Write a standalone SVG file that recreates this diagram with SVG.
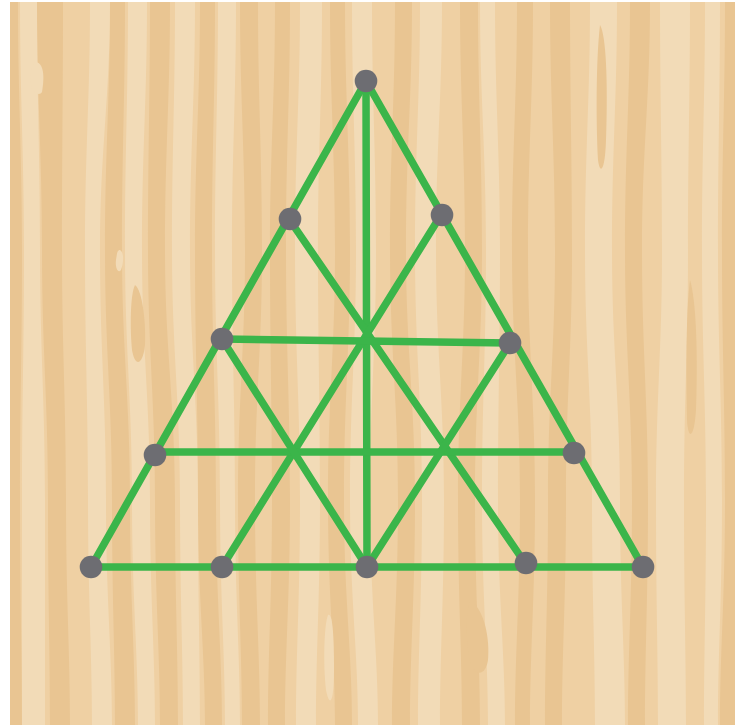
<svg xmlns="http://www.w3.org/2000/svg" width="744" height="725" viewBox="0 0 744 725">
<defs>
<style>
.d{fill:#E9C592}
.l{fill:#F2DBB7}
.edge{stroke:#3BB54A;stroke-width:7.5;stroke-linecap:round;fill:none}
.nail{fill:#6D6D72}
</style>
<clipPath id="board"><rect x="10" y="2" width="725" height="723"/></clipPath>
</defs>
<rect width="744" height="725" fill="#FFFFFF"/>
<g id="wood" clip-path="url(#board)">
<rect x="10" y="2" width="725" height="723" fill="#EFD0A3"/>
<path class="d" d="M10,2 C10,100 10,150 10,250 C10,350 10,400 10,500 C10,600 10,650 10,725 L22,725 C22,650 20,600 20,500 C20,400 22,350 22,250 C22,150 18,100 18,2 Z"/>
<path class="d" d="M37,2 C37,100 42,150 42,250 C42,350 48,400 48,500 C48,600 50,650 50,725 L70,725 C70,650 66,600 66,500 C66,400 62,350 62,250 C62,150 63,100 63,2 Z"/>
<path class="d" d="M110,2 C110,100 105,150 105,250 C105,350 112,400 112,500 C112,600 115,650 115,725 L135,725 C135,650 130,600 130,500 C130,400 122,350 122,250 C122,150 125,100 125,2 Z"/>
<path class="d" d="M150,2 C150,100 148,150 148,250 C148,350 155,400 155,500 C155,600 160,650 160,725 L178,725 C178,650 175,600 175,500 C175,400 165,350 165,250 C165,150 170,100 170,2 Z"/>
<path class="d" d="M200,2 C200,100 195,150 195,250 C195,350 198,400 198,500 C198,600 205,650 205,725 L222,725 C222,650 216,600 216,500 C216,400 212,350 212,250 C212,150 215,100 215,2 Z"/>
<path class="d" d="M240,2 C240,100 245,150 245,250 C245,350 238,400 238,500 C238,600 242,650 242,725 L260,725 C260,650 255,600 255,500 C255,400 262,350 262,250 C262,150 258,100 258,2 Z"/>
<path class="d" d="M275,2 C275,100 270,150 270,250 C270,350 272,400 272,500 C272,600 268,650 268,725 L285,725 C285,650 290,600 290,500 C290,400 286,350 286,250 C286,150 290,100 290,2 Z"/>
<path class="d" d="M330,2 C330,100 335,150 335,250 C335,350 328,400 328,500 C328,600 335,650 335,725 L352,725 C352,650 344,600 344,500 C344,400 350,350 350,250 C350,150 345,100 345,2 Z"/>
<path class="d" d="M395,2 C395,100 390,150 390,250 C390,350 398,400 398,500 C398,600 392,650 392,725 L410,725 C410,650 415,600 415,500 C415,400 406,350 406,250 C406,150 412,100 412,2 Z"/>
<path class="d" d="M460,2 C460,100 465,150 465,250 C465,350 458,400 458,500 C458,600 462,650 462,725 L480,725 C480,650 475,600 475,500 C475,400 482,350 482,250 C482,150 478,100 478,2 Z"/>
<path class="d" d="M517,2 C517,100 512,150 512,250 C512,350 520,400 520,500 C520,600 515,650 515,725 L530,725 C530,650 535,600 535,500 C535,400 528,350 528,250 C528,150 533,100 533,2 Z"/>
<path class="d" d="M550,2 C550,100 555,150 555,250 C555,350 548,400 548,500 C548,600 545,650 545,725 L562,725 C562,650 566,600 566,500 C566,400 572,350 572,250 C572,150 570,100 570,2 Z"/>
<path class="d" d="M630,2 C630,100 625,150 625,250 C625,350 632,400 632,500 C632,600 628,650 628,725 L645,725 C645,650 648,600 648,500 C648,400 642,350 642,250 C642,150 650,100 650,2 Z"/>
<path class="d" d="M725,2 C725,100 722,150 722,250 C722,350 725,400 725,500 C725,600 720,650 720,725 L735,725 L735,2 Z"/>
<path class="l" d="M20,2 C20,100 24,150 24,250 C24,350 22,400 22,500 C22,600 22,650 22,725 L45,725 C45,650 45,600 45,500 C45,400 40,350 40,250 C40,150 37,100 37,2 Z"/>
<path class="l" d="M90,2 C90,100 85,150 85,250 C85,350 88,400 88,500 C88,600 92,650 92,725 L112,725 C112,650 106,600 106,500 C106,400 100,350 100,250 C100,150 110,100 110,2 Z"/>
<path class="l" d="M128,2 C128,100 125,150 125,250 C125,350 132,400 132,500 C132,600 138,650 138,725 L155,725 C155,650 150,600 150,500 C150,400 142,350 142,250 C142,150 147,100 147,2 Z"/>
<path class="l" d="M175,2 C175,100 172,150 172,250 C172,350 180,400 180,500 C180,600 183,650 183,725 L200,725 C200,650 198,600 198,500 C198,400 190,350 190,250 C190,150 195,100 195,2 Z"/>
<path class="l" d="M218,2 C218,100 215,150 215,250 C215,350 220,400 220,500 C220,600 225,650 225,725 L240,725 C240,650 235,600 235,500 C235,400 232,350 232,250 C232,150 236,100 236,2 Z"/>
<path class="l" d="M300,2 C300,100 295,150 295,250 C295,350 300,400 300,500 C300,600 296,650 296,725 L316,725 C316,650 320,600 320,500 C320,400 318,350 318,250 C318,150 322,100 322,2 Z"/>
<path class="l" d="M352,2 C352,100 356,150 356,250 C356,350 350,400 350,500 C350,600 358,650 358,725 L378,725 C378,650 370,600 370,500 C370,400 376,350 376,250 C376,150 372,100 372,2 Z"/>
<path class="l" d="M420,2 C420,100 415,150 415,250 C415,350 422,400 422,500 C422,600 418,650 418,725 L440,725 C440,650 444,600 444,500 C444,400 436,350 436,250 C436,150 442,100 442,2 Z"/>
<path class="l" d="M480,2 C480,100 486,150 486,250 C486,350 482,400 482,500 C482,600 488,650 488,725 L505,725 C505,650 498,600 498,500 C498,400 500,350 500,250 C500,150 495,100 495,2 Z"/>
<path class="l" d="M590,2 C590,100 585,150 585,250 C585,350 592,400 592,500 C592,600 595,650 595,725 L625,725 C625,650 620,600 620,500 C620,400 612,350 612,250 C612,150 617,100 617,2 Z"/>
<path class="l" d="M660,2 C660,100 662,150 662,250 C662,350 656,400 656,500 C656,600 658,650 658,725 L686,725 C686,650 684,600 684,500 C684,400 688,350 688,250 C688,150 690,100 690,2 Z"/>
<path class="l" d="M705,2 C705,100 702,150 702,250 C702,350 706,400 706,500 C706,600 704,650 704,725 L718,725 C718,650 722,600 722,500 C722,400 718,350 718,250 C718,150 720,100 720,2 Z"/>
<path class="l" d="M36,62 C45,64 44,80 42,92 C40,96 32,94 31,84 C30,74 31,64 36,62 Z"/>
<path class="l" d="M120,250 C124,252 124,262 121,270 C118,274 115,268 116,260 C117,254 117,250 120,250 Z"/>
<path class="d" d="M135,285 C142,290 146,320 145,345 C143,365 135,368 132,350 C130,330 130,295 135,285 Z"/>
<path class="d" d="M600,25 C606,35 608,80 606,140 C605,172 600,175 598,160 C596,120 596,60 600,25 Z"/>
<path class="d" d="M690,280 C696,300 698,350 696,410 C694,440 688,440 687,420 C686,370 686,310 690,280 Z"/>
<path class="d" d="M470,600 C485,610 490,640 488,660 C485,680 470,676 468,650 C466,630 466,610 470,600 Z"/>
<path class="l" d="M328,615 C333,612 334,640 334,670 C334,700 330,710 326,690 C323,665 324,625 328,615 Z"/>
</g>
<g id="connectors">
<line class="edge" x1="366" y1="81" x2="91" y2="567"/>
<line class="edge" x1="366" y1="81" x2="643" y2="567"/>
<line class="edge" x1="91" y1="567" x2="643" y2="567"/>
<line class="edge" x1="366" y1="81" x2="367" y2="567"/>
<line class="edge" x1="289" y1="219" x2="525" y2="563"/>
<line class="edge" x1="441" y1="215" x2="222" y2="567"/>
<line class="edge" x1="222" y1="339" x2="510" y2="343"/>
<line class="edge" x1="155" y1="452" x2="573" y2="452"/>
<line class="edge" x1="222" y1="339" x2="367" y2="567"/>
<line class="edge" x1="510" y1="343" x2="367" y2="567"/>
</g>
<g id="n1"><circle class="nail" cx="366" cy="81" r="11.3"/></g>
<g id="n2"><circle class="nail" cx="290" cy="219" r="11.3"/></g>
<g id="n3"><circle class="nail" cx="442" cy="215" r="11.3"/></g>
<g id="n4"><circle class="nail" cx="222" cy="339" r="11.3"/></g>
<g id="n5"><circle class="nail" cx="510" cy="343" r="11.3"/></g>
<g id="n6"><circle class="nail" cx="155" cy="455" r="11.3"/></g>
<g id="n7"><circle class="nail" cx="574" cy="453" r="11.3"/></g>
<g id="n8"><circle class="nail" cx="91" cy="567" r="11.3"/></g>
<g id="n9"><circle class="nail" cx="222" cy="567" r="11.3"/></g>
<g id="n10"><circle class="nail" cx="367" cy="567" r="11.3"/></g>
<g id="n11"><circle class="nail" cx="526" cy="563" r="11.3"/></g>
<g id="n12"><circle class="nail" cx="643" cy="567" r="11.3"/></g>
</svg>
